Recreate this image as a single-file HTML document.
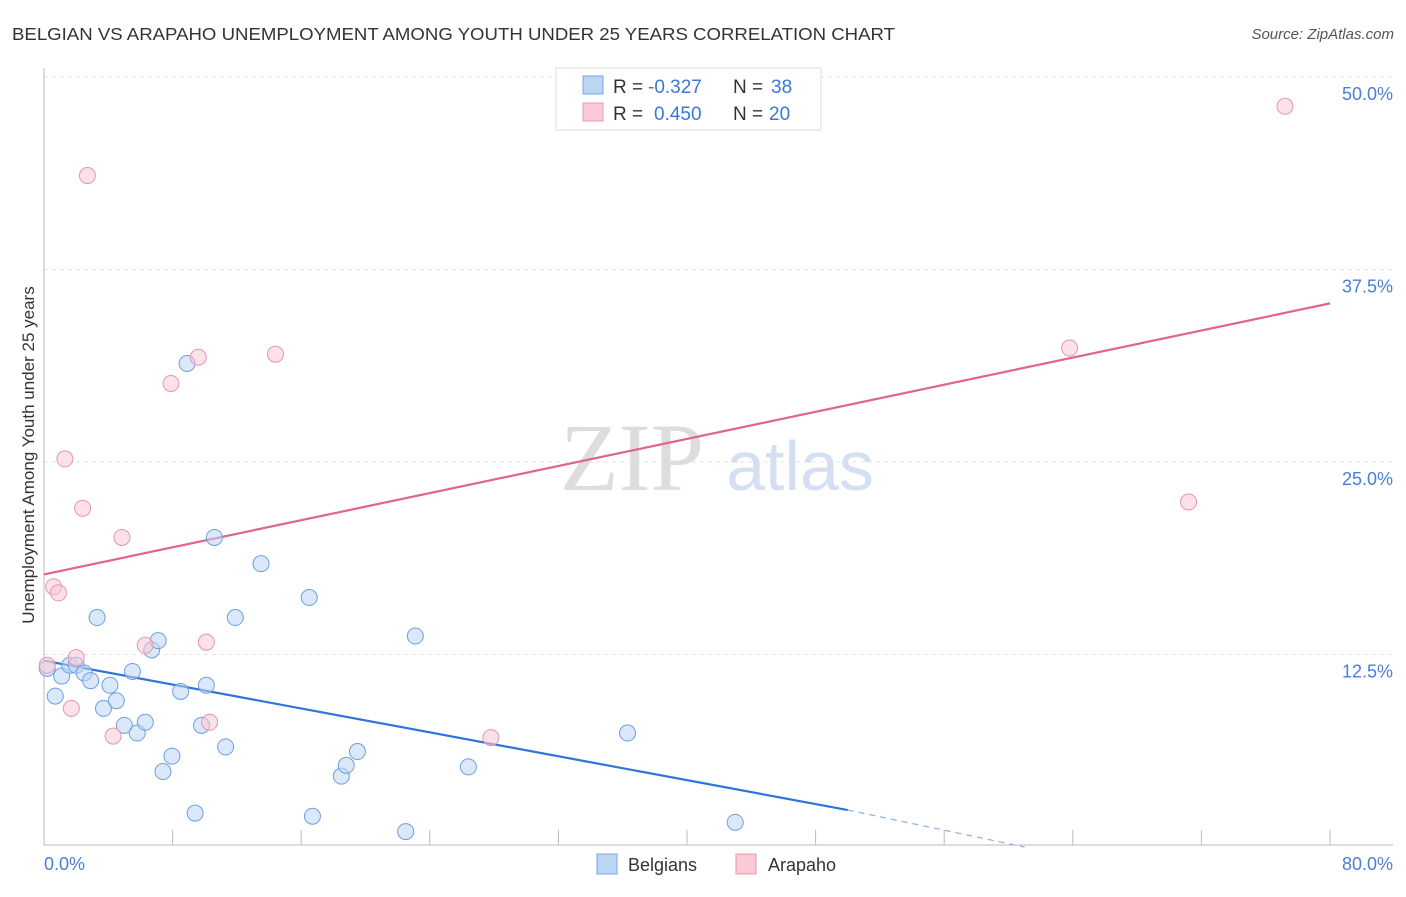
<!DOCTYPE html>
<html><head><meta charset="utf-8"><style>
body{margin:0;background:#fff;font-family:"Liberation Sans",sans-serif}
</style></head><body>
<svg width="1406" height="892" viewBox="0 0 1406 892" xmlns="http://www.w3.org/2000/svg">
<text x="12" y="40" font-size="17.5" fill="#333" textLength="883" lengthAdjust="spacingAndGlyphs">BELGIAN VS ARAPAHO UNEMPLOYMENT AMONG YOUTH UNDER 25 YEARS CORRELATION CHART</text>
<text x="1394" y="39" font-size="15" fill="#555" font-style="italic" text-anchor="end">Source: ZipAtlas.com</text>
<g id="grid"></g>
<text x="632" y="490" font-size="96" fill="#ddd" font-family="Liberation Serif" text-anchor="middle">ZIP</text>
<text x="800" y="490" font-size="70" fill="#d4e0f2" text-anchor="middle">atlas</text>
<g id="axes"></g>
<g id="lines"></g>
<g id="pts"></g>
<text x="34" y="455" font-size="17" fill="#333" text-anchor="middle" transform="rotate(-90 34 455)">Unemployment Among Youth under 25 years</text>
<text x="44" y="870" font-size="18" fill="#4a7fd4">0.0%</text>
<text x="1393" y="870" font-size="18" fill="#4a7fd4" text-anchor="end">80.0%</text>
<g>
<rect x="556" y="68" width="265" height="62" fill="#fff" stroke="#ddd"/>
<rect x="583" y="76" width="20" height="18" fill="#bcd5f5" stroke="#7aa6e0"/>
<rect x="583" y="103" width="20" height="18" fill="#f9c9d6" stroke="#e89ab0"/>
<text x="613" y="93" font-size="19" fill="#333">R =</text>
<text x="648" y="93" font-size="19" fill="#3a78d8">-0.327</text>
<text x="733" y="93" font-size="19" fill="#333">N =</text>
<text x="771" y="93" font-size="19" fill="#3a78d8">38</text>
<text x="613" y="120" font-size="19" fill="#333">R =</text>
<text x="654" y="120" font-size="19" fill="#3a78d8">0.450</text>
<text x="733" y="120" font-size="19" fill="#333">N =</text>
<text x="769" y="120" font-size="19" fill="#3a78d8">20</text>
</g>
<g>
<rect x="597" y="854" width="20" height="20" fill="#bcd5f5" stroke="#7aa6e0"/>
<text x="628" y="871" font-size="18" fill="#333">Belgians</text>
<rect x="736" y="854" width="20" height="20" fill="#f9c9d6" stroke="#e89ab0"/>
<text x="768" y="871" font-size="18" fill="#333">Arapaho</text>
</g>
</svg>
<script>
const yTicks=[12.5,25,37.5,50];
const yTickLabels=["12.5%","25.0%","37.5%","50.0%"];
const xTicks=[8,16,24,32,40,48,56,64,72,80];
const belX=[0.2,0.7,1.1,1.6,2.0,2.5,2.9,3.3,3.7,4.1,4.5,5.0,5.5,5.8,6.3,6.7,7.1,7.4,7.96,8.5,8.9,9.4,9.8,10.1,10.6,11.3,11.9,13.5,16.5,16.7,18.5,18.8,19.5,22.5,23.1,26.4,36.3,43.0];
const belY=[11.6,9.8,11.1,11.8,11.8,11.3,10.8,14.9,9.0,10.5,9.5,7.9,11.4,7.4,8.1,12.8,13.4,4.9,5.9,10.1,31.4,2.2,7.9,10.5,20.1,6.5,14.9,18.4,16.2,2.0,4.6,5.3,6.2,1.0,13.7,5.2,7.4,1.6];
const araX=[0.2,0.6,0.9,1.3,1.7,2.0,2.4,2.7,4.3,4.85,6.3,7.9,9.6,10.1,10.3,14.4,27.8,63.8,71.2,77.2];
const araY=[11.8,16.9,16.5,25.2,9.0,12.3,22.0,43.6,7.2,20.1,13.1,30.1,31.8,13.3,8.1,32.0,7.1,32.4,22.4,48.1];
const belTrend=[12.1,-0.194];
const araTrend=[17.7,0.22];
const X=v=>44+v*1286/80, Y=v=>847-v*15.4;
const NS="http://www.w3.org/2000/svg";
function mk(tag,attrs,parent){const e=document.createElementNS(NS,tag);for(const k in attrs)e.setAttribute(k,attrs[k]);document.getElementById(parent).appendChild(e);return e;}
yTicks.forEach((t,i)=>{
 const g=mk('line',{x1:44,x2:1393,y1:Y(t),y2:Y(t),stroke:'#e3e3e3','stroke-dasharray':'4,4'},'grid');
 
 
 const l=mk('text',{x:1393,y:Y(t)+23,'font-size':18,fill:'#4a7fd4','text-anchor':'end'},'grid');
 l.textContent=yTickLabels[i];
 
 
});
let a=mk('line',{x1:44,x2:44,y1:68,y2:845,stroke:'#bbb'},'axes');


a=mk('line',{x1:44,x2:1393,y1:845,y2:845,stroke:'#bbb'},'axes');


xTicks.forEach(t=>{
 const e=mk('line',{x1:X(t),x2:X(t),y1:830,y2:845,stroke:'#bbb'},'axes');
 
 
});
function pts(xs,ys,fill,stroke,name){xs.forEach((x,i)=>{
 const c=mk('circle',{cx:X(x),cy:Y(ys[i]),r:8,fill:fill,'fill-opacity':0.55,stroke:stroke,'stroke-width':1},'pts');
 
 
});}
pts(belX,belY,'#bcd5f5','#6e9fe0','belgian-point');
pts(araX,araY,'#f9c9d6','#e596ad','arapaho-point');
const bEnd=50, bZero=61;
let ln=mk('line',{x1:X(0),y1:Y(belTrend[0]),x2:X(bEnd),y2:Y(belTrend[0]+belTrend[1]*bEnd),stroke:'#2f74d8','stroke-width':2.2},'lines');


ln=mk('line',{x1:X(bEnd),y1:Y(belTrend[0]+belTrend[1]*bEnd),x2:X(bZero),y2:Y(0),stroke:'#8ab0e6','stroke-width':1.2,'stroke-dasharray':'6,5'},'lines');


ln=mk('line',{x1:X(0),y1:Y(araTrend[0]),x2:X(80),y2:Y(araTrend[0]+araTrend[1]*80),stroke:'#e0648e','stroke-width':2.2},'lines');


</script>
</body></html>
